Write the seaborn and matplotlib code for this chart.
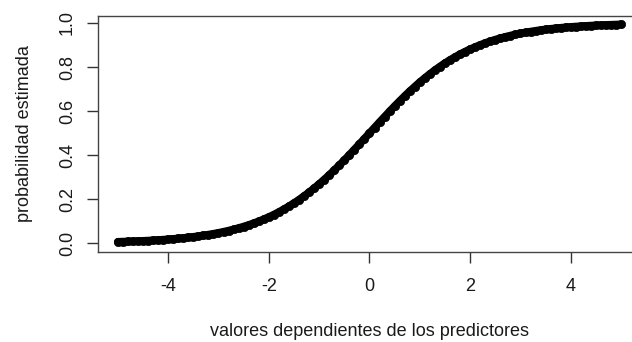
import matplotlib
matplotlib.use("Agg")
import matplotlib.pyplot as plt
import seaborn as sns
import pandas as pd

# linear predictor values and the fitted probability at each one
predictor = [
    -5.0, -4.9, -4.8, -4.7, -4.6, -4.5, -4.4, -4.3, -4.2, -4.1,
    -4.0, -3.9, -3.8, -3.7, -3.6, -3.5, -3.4, -3.3, -3.2, -3.1,
    -3.0, -2.9, -2.8, -2.7, -2.6, -2.5, -2.4, -2.3, -2.2, -2.1,
    -2.0, -1.9, -1.8, -1.7, -1.6, -1.5, -1.4, -1.3, -1.2, -1.1,
    -1.0, -0.9, -0.8, -0.7, -0.6, -0.5, -0.4, -0.3, -0.2, -0.1,
    0.0,
    0.1, 0.2, 0.3, 0.4, 0.5, 0.6, 0.7, 0.8, 0.9, 1.0,
    1.1, 1.2, 1.3, 1.4, 1.5, 1.6, 1.7, 1.8, 1.9, 2.0,
    2.1, 2.2, 2.3, 2.4, 2.5, 2.6, 2.7, 2.8, 2.9, 3.0,
    3.1, 3.2, 3.3, 3.4, 3.5, 3.6, 3.7, 3.8, 3.9, 4.0,
    4.1, 4.2, 4.3, 4.4, 4.5, 4.6, 4.7, 4.8, 4.9, 5.0,
]
probability = [
    0.0067, 0.0074, 0.0082, 0.0090, 0.0100, 0.0110, 0.0121, 0.0134, 0.0148, 0.0163,
    0.0180, 0.0198, 0.0219, 0.0241, 0.0266, 0.0293, 0.0323, 0.0356, 0.0392, 0.0431,
    0.0474, 0.0522, 0.0573, 0.0630, 0.0691, 0.0759, 0.0832, 0.0911, 0.0998, 0.1091,
    0.1192, 0.1301, 0.1419, 0.1545, 0.1680, 0.1824, 0.1978, 0.2142, 0.2315, 0.2497,
    0.2689, 0.2891, 0.3100, 0.3318, 0.3543, 0.3775, 0.4013, 0.4256, 0.4502, 0.4750,
    0.5000,
    0.5250, 0.5498, 0.5744, 0.5987, 0.6225, 0.6457, 0.6682, 0.6900, 0.7109, 0.7311,
    0.7503, 0.7685, 0.7858, 0.8022, 0.8176, 0.8320, 0.8455, 0.8581, 0.8699, 0.8808,
    0.8909, 0.9002, 0.9089, 0.9168, 0.9241, 0.9309, 0.9370, 0.9427, 0.9478, 0.9526,
    0.9569, 0.9608, 0.9644, 0.9677, 0.9707, 0.9734, 0.9759, 0.9781, 0.9802, 0.9820,
    0.9837, 0.9852, 0.9866, 0.9879, 0.9890, 0.9900, 0.9910, 0.9918, 0.9926, 0.9933,
]
x_ticks = [-4, -2, 0, 2, 4]
y_ticks = [0.0, 0.2, 0.4, 0.6, 0.8, 1.0]
y_tick_labels = ["0.0", "0.2", "0.4", "0.6", "0.8", "1.0"]

sns.set_theme(style="white")
plt.rcParams["font.family"] = ["Liberation Sans", "DejaVu Sans"]

df = pd.DataFrame({"x": predictor, "p": probability})

fig = plt.figure(figsize=(6.32, 3.42), dpi=100)
ax = fig.add_axes([97.7 / 632, 1 - 252 / 342, 543.6 / 632, 236.3 / 342])

# dense point cloud: a thick stroke joining the points plus the points themselves
sns.lineplot(data=df, x="x", y="p", ax=ax, color="black", linewidth=5.6,
             legend=False, zorder=2)
sns.scatterplot(data=df, x="x", y="p", ax=ax, s=36, color="black",
                edgecolor="black", linewidth=0.5, legend=False, zorder=3)

ax.set_xlim(-5.4, 5.4)
ax.set_ylim(-0.0395, 1.033)

ax.set_xticks(x_ticks)
ax.set_xticklabels([str(t) for t in x_ticks])
ax.set_yticks(y_ticks)
ax.set_yticklabels(y_tick_labels, rotation=90, va="center")

for side in ["left", "bottom", "top", "right"]:
    ax.spines[side].set_visible(True)
    ax.spines[side].set_color("#444444")
    ax.spines[side].set_linewidth(1.0)

fs = 13
ax.tick_params(axis="both", which="major", direction="out", length=7.6,
               width=1.0, color="#333333", labelsize=fs, labelcolor="#1a1a1a",
               left=True, bottom=True)
ax.tick_params(axis="x", pad=11)
ax.tick_params(axis="y", pad=8)

ax.set_xlabel("valores dependientes de los predictores", fontsize=fs,
              color="#1a1a1a", labelpad=20)
ax.set_ylabel("probabilidad estimada", fontsize=fs, color="#1a1a1a",
              labelpad=19)
ax.grid(False)

fig.savefig("out.png", dpi=100)
